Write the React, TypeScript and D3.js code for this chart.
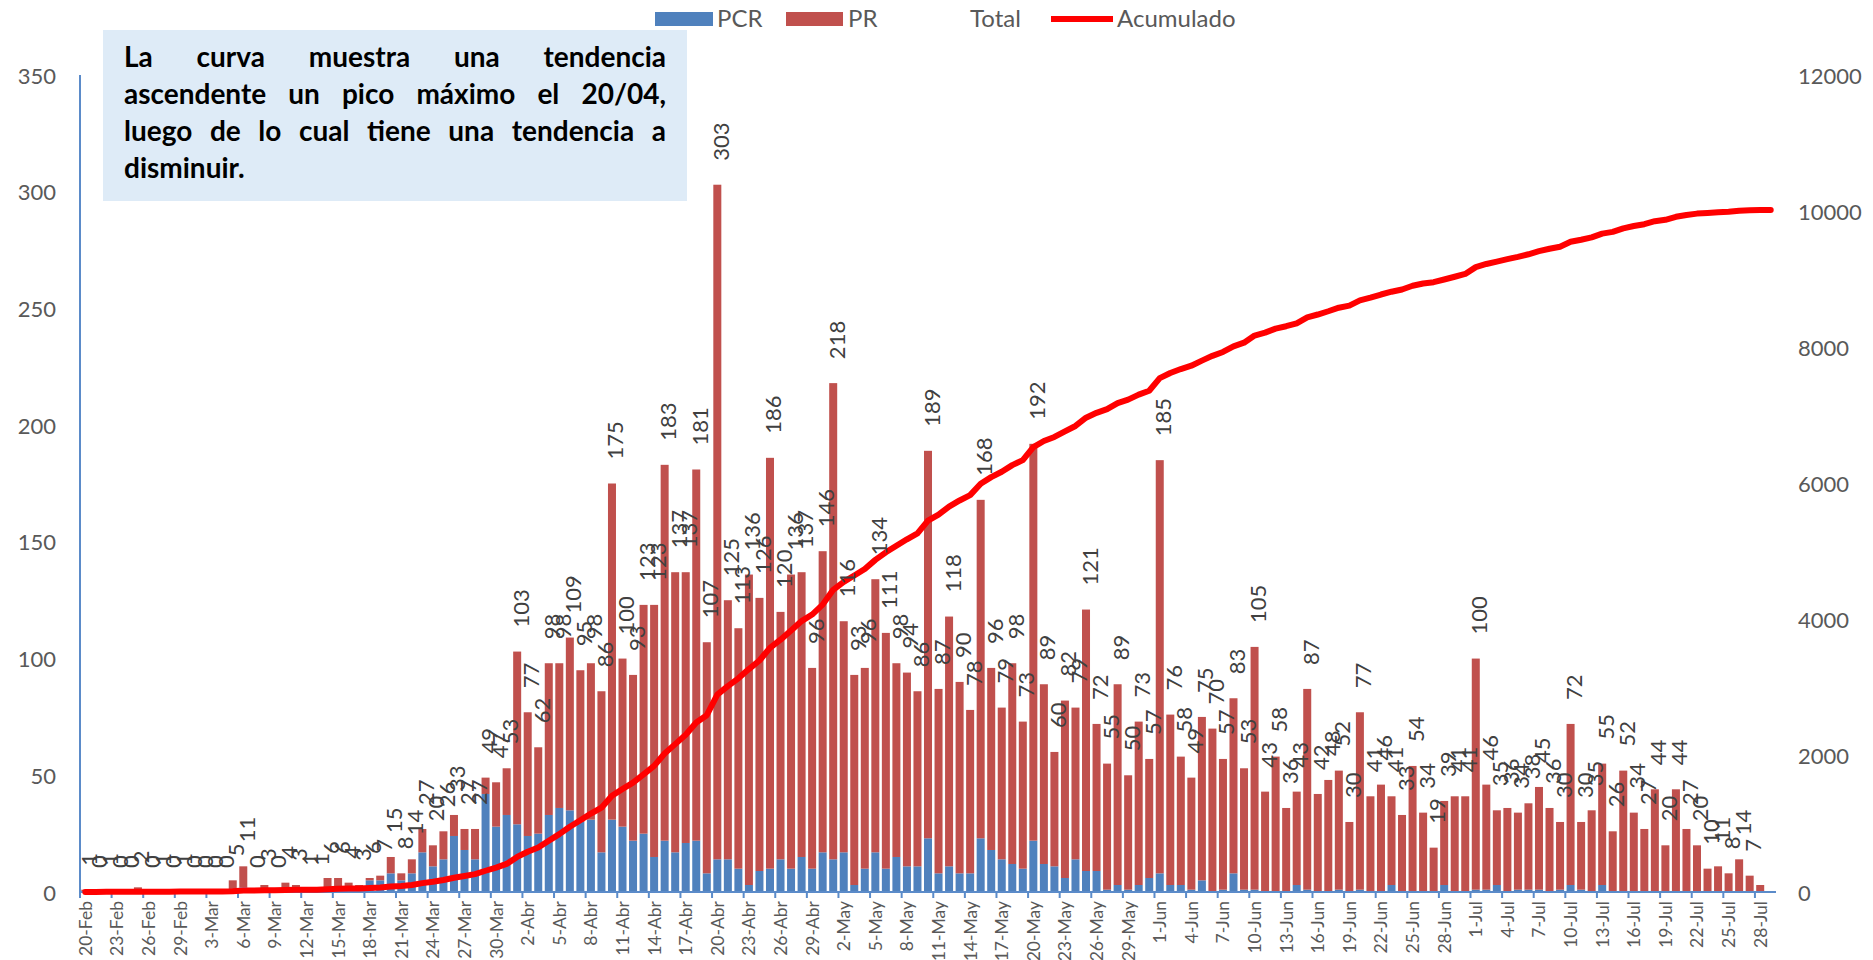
import React, { useMemo } from "react";
import * as d3 from "d3";

// ---------- DATA ----------
const START_DATE = new Date(2020, 1, 20); // 20-Feb-2020
const N_DAYS = 161; // 20-Feb .. 29-Jul
const MONTHS_ES = ["Ene", "Feb", "Mar", "Abr", "May", "Jun", "Jul", "Ago", "Sep", "Oct", "Nov", "Dic"];

const PCR = [
  0, 0, 0, 0, 0, 0, 0, 0, 0, 1,
  0, 0, 0, 0, 0, 2, 0, 0, 0, 0, 0, 0, 0, 2, 1, 2, 1, 5, 5, 8, 5, 8, 17, 11, 14, 24, 18, 14, 42, 28, 33,
  29, 24, 25, 33, 36, 35, 30, 31, 17, 31, 28, 22, 25, 15, 22, 17, 21, 22, 8, 14, 14, 10, 3, 9, 10, 14, 10, 15, 10, 17,
  14, 17, 3, 10, 17, 10, 15, 11, 11, 23, 8, 11, 8, 8, 23, 18, 14, 12, 10, 22, 12, 11, 6, 14, 9, 9, 1, 3, 1, 3, 6,
  8, 3, 3, 1, 5, 0, 1, 8, 1, 1, 0, 0, 0, 3, 1, 0, 0, 1, 0, 1, 0, 0, 3, 0, 0, 0, 0, 3, 0, 0,
  1, 1, 3, 0, 1, 1, 1, 0, 1, 3, 1, 0, 3, 0, 0, 0, 0, 0, 0, 0, 0, 0, 0, 0, 0, 0, 0, 0, 0,
];

const PR = [
  1, 0, 1, 0, 0, 2, 0, 1, 0, 0,
  0, 0, 0, 0, 5, 9, 0, 3, 0, 4, 3, 1, 1, 4, 5, 2, 2, 1, 2, 7, 3, 6, 10, 9, 12, 9, 9, 13, 7, 19, 20,
  74, 53, 37, 65, 62, 74, 65, 67, 69, 144, 72, 71, 98, 108, 161, 120, 116, 159, 99, 289, 111, 103, 133, 117, 176, 106, 126, 122, 86, 129,
  204, 99, 90, 86, 117, 101, 83, 83, 75, 166, 79, 107, 82, 70, 145, 78, 65, 86, 63, 170, 77, 49, 76, 65, 112, 63, 54, 86, 49, 70, 51,
  177, 73, 55, 48, 70, 70, 56, 75, 52, 104, 43, 58, 36, 40, 86, 42, 48, 51, 30, 76, 41, 46, 38, 33, 54, 34, 19, 36, 41, 41,
  99, 45, 32, 36, 33, 37, 44, 36, 29, 69, 29, 35, 52, 26, 52, 34, 27, 44, 20, 44, 27, 20, 10, 11, 8, 14, 7, 3, 0,
];

const TOTAL = [
  1, 0, 1, 0, 0, 2, 0, 1, 0, 1,
  0, 0, 0, 0, 5, 11, 0, 3, 0, 4, 3, 1, 1, 6, 6, 4, 3, 6, 7, 15, 8, 14, 27, 20, 26, 33, 27, 27, 49, 47, 53,
  103, 77, 62, 98, 98, 109, 95, 98, 86, 175, 100, 93, 123, 123, 183, 137, 137, 181, 107, 303, 125, 113, 136, 126, 186, 120, 136, 137, 96, 146,
  218, 116, 93, 96, 134, 111, 98, 94, 86, 189, 87, 118, 90, 78, 168, 96, 79, 98, 73, 192, 89, 60, 82, 79, 121, 72, 55, 89, 50, 73, 57,
  185, 76, 58, 49, 75, 70, 57, 83, 53, 105, 43, 58, 36, 43, 87, 42, 48, 52, 30, 77, 41, 46, 41, 33, 54, 34, 19, 39, 41, 41,
  100, 46, 35, 36, 34, 38, 45, 36, 30, 72, 30, 35, 55, 26, 52, 34, 27, 44, 20, 44, 27, 20, 10, 11, 8, 14, 7, 3, 0,
];

const ACUMULADO = [
  1, 1, 2, 2, 2, 4, 4, 5, 5, 6,
  6, 6, 6, 6, 11, 22, 22, 25, 25, 29, 32, 33, 34, 40, 46, 50, 53, 59, 66, 81, 89, 103, 130, 150, 176, 209, 236, 263, 312, 359, 412,
  515, 592, 654, 752, 850, 959, 1054, 1152, 1238, 1413, 1513, 1606, 1729, 1852, 2035, 2172, 2309, 2490, 2597, 2900,
  3025, 3138, 3274, 3400, 3586, 3706, 3842, 3979, 4075, 4221,
  4439, 4555, 4648, 4744, 4878, 4989, 5087, 5181, 5267, 5456, 5543, 5661, 5751, 5829, 5997, 6093, 6172, 6270, 6343, 6535,
  6624, 6684, 6766, 6845, 6966, 7038, 7093, 7182, 7232, 7305, 7362,
  7547, 7623, 7681, 7730, 7805, 7875, 7932, 8015, 8068, 8173, 8216, 8274, 8310, 8353, 8440, 8482, 8530, 8582, 8612, 8689,
  8730, 8776, 8817, 8850, 8904, 8938, 8957, 8996, 9037, 9078,
  9178, 9224, 9259, 9295, 9329, 9367, 9412, 9448, 9478, 9550, 9580, 9615, 9670, 9696, 9748, 9782, 9809, 9853, 9873, 9917,
  9944, 9964, 9974, 9985, 9993, 10007, 10014, 10017, 10017,
];

const Y_LEFT_TICKS = [0, 50, 100, 150, 200, 250, 300, 350];
const Y_RIGHT_TICKS = [0, 2000, 4000, 6000, 8000, 10000, 12000];
const X_LABEL_EVERY = 3;
const LEGEND_LABELS = ["PCR", "PR", "Total", "Acumulado"];
const NOTE_LINES = [
  "La curva muestra una tendencia",
  "ascendente un pico máximo el 20/04,",
  "luego de lo cual tiene una tendencia a",
  "disminuir.",
];

// ---------- STYLE ----------
const FONT = "Lato, 'Open Sans', sans-serif";
const C_PCR = "#4F81BD";
const C_PR = "#C0504D";
const C_LINE = "#FF0000";
const C_AXIS = "#5B8BC9";
const C_TEXT = "#595959";
const C_LABEL = "#404040";

function measureWords(words: string[], font: string): number[] {
  const canvas = document.createElement("canvas");
  const ctx = canvas.getContext("2d")!;
  ctx.font = font;
  return words.map((w) => ctx.measureText(w).width);
}

export default function App() {
  const W = 1873;
  const H = 960;
  const X0 = 80;
  const X1 = 1776;
  const Y0 = 892;
  const YT = 75;

  const dates = useMemo(
    () => d3.range(N_DAYS).map((i) => d3.timeDay.offset(START_DATE, i)),
    []
  );
  const catLabels = dates.map((d) => `${d.getDate()}-${MONTHS_ES[d.getMonth()]}`);

  const x = d3
    .scaleBand<number>()
    .domain(d3.range(N_DAYS))
    .range([X0, X1])
    .paddingInner(0.24)
    .paddingOuter(0.12);
  const bw = x.bandwidth();
  const step = x.step();
  const yL = d3.scaleLinear().domain([0, 350]).range([Y0, YT]);
  const yR = d3.scaleLinear().domain([0, 12000]).range([Y0, YT]);

  const line = d3
    .line<number>()
    .x((v, i) => (x(i) as number) + bw / 2)
    .y((v) => yR(v));

  // justified note text
  const noteFont = "bold 28px Lato";
  const noteLeft = 124;
  const noteRight = 666;
  const noteBase = [67, 104, 141, 178];
  const noteWords = NOTE_LINES.map((ln, li) => {
    const words = ln.split(" ");
    const widths = measureWords(words, noteFont);
    const total = d3.sum(widths);
    const last = li === NOTE_LINES.length - 1;
    const gap = last || words.length < 2 ? 8 : (noteRight - noteLeft - total) / (words.length - 1);
    let cx = noteLeft;
    return words.map((w, wi) => {
      const pos = cx;
      cx += widths[wi] + gap;
      return { w, x: pos, y: noteBase[li] };
    });
  });

  return (
    <svg
      width={W}
      height={H}
      style={{ position: "absolute", left: 0, top: 0, background: "#fff" }}
      fontFamily={FONT}
    >
      <rect x={0} y={0} width={W} height={H} fill="#fff" />

      {/* bars */}
      {d3.range(N_DAYS).map((i) => {
        const bx = x(i) as number;
        return (
          <g key={`b${i}`}>
            {PCR[i] > 0 && (
              <rect x={bx} y={yL(PCR[i])} width={bw} height={Y0 - yL(PCR[i])} fill={C_PCR} />
            )}
            {PR[i] > 0 && (
              <rect
                x={bx}
                y={yL(PCR[i] + PR[i])}
                width={bw}
                height={yL(PCR[i]) - yL(PCR[i] + PR[i])}
                fill={C_PR}
              />
            )}
          </g>
        );
      })}

      {/* axes */}
      <line x1={X0} x2={X0} y1={YT} y2={Y0} stroke={C_AXIS} strokeWidth={2} />
      <line x1={X0} x2={X1} y1={Y0} y2={Y0} stroke={C_AXIS} strokeWidth={2} />
      {d3.range(0, N_DAYS, X_LABEL_EVERY).map((i) => {
        const tx = X0 + i * step;
        return <line key={`t${i}`} x1={tx} x2={tx} y1={Y0} y2={Y0 + 6} stroke={C_AXIS} strokeWidth={2} />;
      })}

      {Y_LEFT_TICKS.map((v) => (
        <text key={`yl${v}`} x={56} y={yL(v)} textAnchor="end" dominantBaseline="central" fontSize={22} fill={C_TEXT}>
          {v}
        </text>
      ))}
      {Y_RIGHT_TICKS.map((v) => (
        <text key={`yr${v}`} x={1798} y={yR(v)} textAnchor="start" dominantBaseline="central" fontSize={22} fill={C_TEXT}>
          {v}
        </text>
      ))}

      {d3.range(0, N_DAYS, X_LABEL_EVERY).map((i) => {
        const cx = (x(i) as number) + bw / 2;
        return (
          <text
            key={`xl${i}`}
            transform={`translate(${cx},${Y0 + 9}) rotate(-90)`}
            textAnchor="end"
            dominantBaseline="central"
            fontSize={17.5}
            fill={C_TEXT}
          >
            {catLabels[i]}
          </text>
        );
      })}

      {/* cumulative line */}
      <path
        d={line(ACUMULADO) || ""}
        fill="none"
        stroke={C_LINE}
        strokeWidth={6}
        strokeLinejoin="round"
        strokeLinecap="round"
      />

      {/* total labels */}
      {d3.range(N_DAYS - 2).map((i) => {
        const cx = (x(i) as number) + bw / 2 + 3;
        const ty = yL(TOTAL[i]) - 24;
        return (
          <text
            key={`l${i}`}
            transform={`translate(${cx},${ty}) rotate(-90)`}
            textAnchor="start"
            dominantBaseline="central"
            fontSize={22}
            fill={C_LABEL}
          >
            {TOTAL[i]}
          </text>
        );
      })}

      {/* legend */}
      <g fontSize={24} fill={C_TEXT}>
        <rect x={655} y={12} width={58} height={14} fill={C_PCR} />
        <text x={717} y={27}>{LEGEND_LABELS[0]}</text>
        <rect x={786} y={12} width={57} height={14} fill={C_PR} />
        <text x={848} y={27}>{LEGEND_LABELS[1]}</text>
        <text x={970} y={27}>{LEGEND_LABELS[2]}</text>
        <line x1={1051} x2={1113} y1={19} y2={19} stroke={C_LINE} strokeWidth={6} />
        <text x={1117} y={27}>{LEGEND_LABELS[3]}</text>
      </g>

      {/* note box */}
      <rect x={103} y={30} width={584} height={171} fill="#DEEBF7" />
      {noteWords.flat().map((o, k) => (
        <text key={`n${k}`} x={o.x} y={o.y} fontSize={28} fontWeight="bold" fill="#000">
          {o.w}
        </text>
      ))}
    </svg>
  );
}
